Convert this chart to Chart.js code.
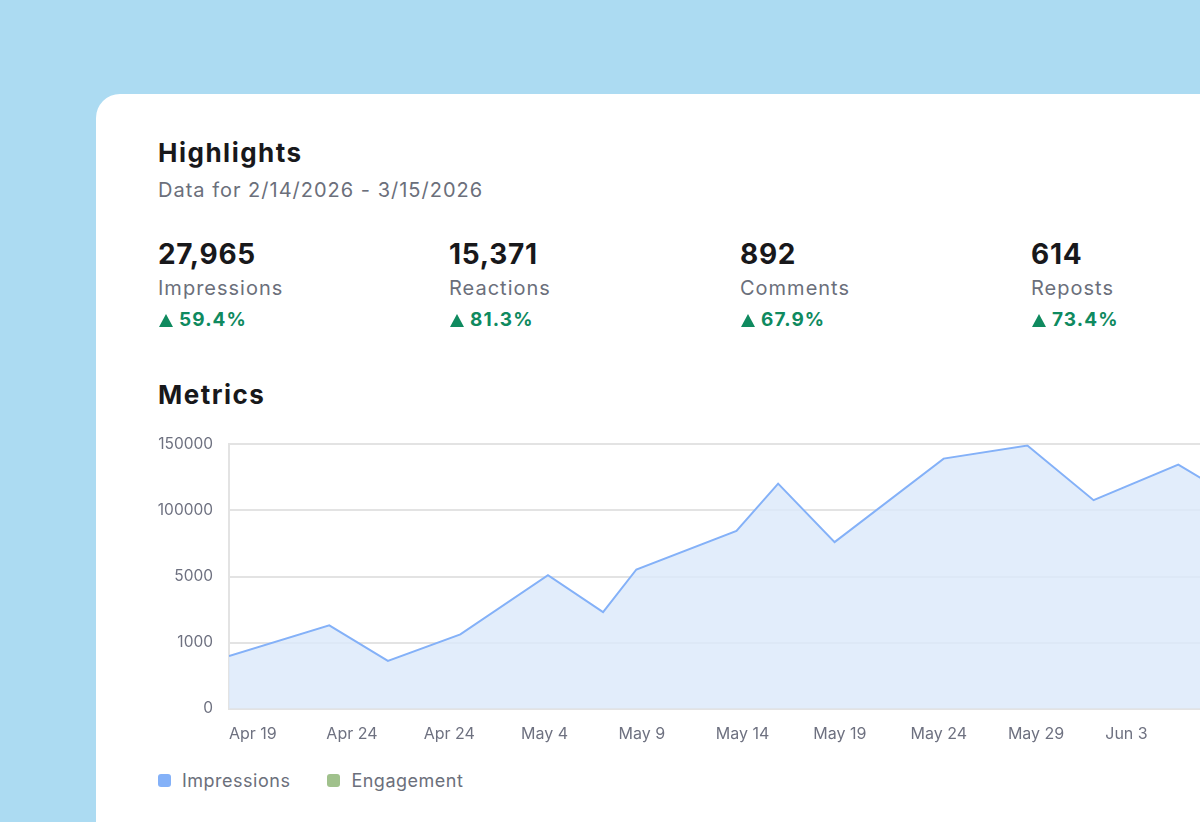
<!DOCTYPE html>
<html>
<head>
<meta charset="utf-8">
<title>Highlights</title>
<script src="https://cdn.jsdelivr.net/npm/chart.js@4.4.1/dist/chart.umd.min.js"></script>
<style>
  html, body {
    margin: 0;
    padding: 0;
    width: 1200px;
    height: 822px;
    overflow: hidden;
    background: #acdbf2;
    font-family: Inter, "Noto Sans", sans-serif;
  }
  .card {
    position: absolute;
    left: 96px;
    top: 94px;
    width: 1300px;
    height: 900px;
    background: #ffffff;
    border-radius: 24px;
  }
  .abs { position: absolute; white-space: nowrap; line-height: 1.2; }
  .title { font-size: 26px; font-weight: 700; color: #18181b; letter-spacing: 1.5px; }
  .subtitle { font-size: 20px; color: #6b6f7b; letter-spacing: 1px; }
  .stat-value { font-size: 28px; font-weight: 700; color: #18181b; letter-spacing: 0.7px; }
  .stat-label { font-size: 20px; color: #6b6f7b; letter-spacing: 1px; }
  .stat-change { font-size: 19px; font-weight: 700; color: #0f8a5f; letter-spacing: 1.1px; }
  .tri {
    display: inline-block;
    width: 0;
    height: 0;
    border-left: 7px solid transparent;
    border-right: 7px solid transparent;
    border-bottom: 13px solid #0f8a5f;
    margin-right: 6px;
    vertical-align: -1px;
  }
  #chartWrap {
    position: absolute;
    left: 148px;
    top: 419px;
    width: 1152px;
    height: 341px;
  }
  #legend {
    position: absolute;
    left: 158px;
    top: 770px;
    display: flex;
    gap: 37px;
    font-size: 18px;
    letter-spacing: 0.5px;
    color: #6b6f7b;
  }
  .legend-item { display: flex; align-items: center; }
  .legend-box { width: 13px; height: 13px; border-radius: 3px; margin-right: 11px; }
</style>
</head>
<body>
<div class="card"></div>

<div class="abs title" style="left:158px; top:137px;">Highlights</div>
<div class="abs subtitle" style="left:158px; top:178px;">Data for 2/14/2026 - 3/15/2026</div>
<div id="stats"></div>
<div class="abs title" style="left:158px; top:379px;">Metrics</div>

<div id="chartWrap"><canvas id="metricsChart"></canvas></div>
<div id="legend"></div>

<script>
  // Highlight figures
  const statNames = ['Impressions', 'Reactions', 'Comments', 'Reposts'];
  const statValues = ['27,965', '15,371', '892', '614'];
  const statChanges = ['59.4%', '81.3%', '67.9%', '73.4%'];

  // Chart data (x = days from Apr 19)
  const xTickLabels = ['Apr 19', 'Apr 24', 'Apr 24', 'May 4', 'May 9', 'May 14', 'May 19', 'May 24', 'May 29', 'Jun 3'];
  const yTickLabels = ['0', '1000', '5000', '100000', '150000'];
  const dayOffsets = [0, 5.15, 8.16, 11.88, 16.38, 19.21, 20.92, 26.06, 28.2, 31.1, 36.7, 41.0, 44.4, 48.75, 52];
  const impressions = [29900, 47300, 27200, 42200, 75800, 54800, 79000, 100900, 127700, 94500, 141900, 149300, 118300, 138500, 117000];
  const engagement = [];

  const colors = {
    impressions: '#84b1f8',
    impressionsFill: 'rgba(219, 232, 250, 0.8)',
    engagement: '#a0c18c',
    grid: '#e3e3e3',
    tick: '#6e7180'
  };

  // Build the highlight columns
  const statsEl = document.getElementById('stats');
  statNames.forEach((name, i) => {
    const left = 158 + i * 291;
    statsEl.innerHTML += `
      <div class="abs stat-value" style="left:${left}px; top:238px;">${statValues[i]}</div>
      <div class="abs stat-label" style="left:${left}px; top:276px;">${name}</div>
      <div class="abs stat-change" style="left:${left + 1}px; top:309px;"><span class="tri"></span>${statChanges[i]}</div>
    `;
  });

  const stepY = 150000 / (yTickLabels.length - 1);

  const chart = new Chart(document.getElementById('metricsChart'), {
    type: 'line',
    data: {
      datasets: [
        {
          label: 'Impressions',
          data: dayOffsets.map((d, i) => ({ x: d, y: impressions[i] })),
          borderColor: colors.impressions,
          backgroundColor: colors.impressionsFill,
          borderWidth: 2,
          fill: 'origin',
          tension: 0,
          pointRadius: 0
        },
        {
          label: 'Engagement',
          data: engagement,
          borderColor: colors.engagement,
          backgroundColor: colors.engagement,
          pointRadius: 0
        }
      ]
    },
    options: {
      responsive: true,
      maintainAspectRatio: false,
      animation: false,
      layout: { padding: 0 },
      plugins: {
        legend: { display: false },
        tooltip: { enabled: false }
      },
      scales: {
        x: {
          type: 'linear',
          min: 0,
          max: 55,
          afterBuildTicks: scale => {
            scale.ticks = xTickLabels.map((_, i) => ({ value: i * 5 }));
          },
          grid: { display: false, drawTicks: false },
          border: { display: true, color: colors.grid, width: 2 },
          ticks: {
            align: 'start',
            padding: 16,
            maxRotation: 0,
            autoSkip: false,
            color: colors.tick,
            font: { family: 'Inter', size: 16 },
            callback: value => xTickLabels[Math.round(value / 5)]
          }
        },
        y: {
          min: 0,
          max: 150000,
          afterBuildTicks: scale => {
            scale.ticks = yTickLabels.map((_, i) => ({ value: i * stepY }));
          },
          afterFit: scale => { scale.width = 81; },
          grid: { color: colors.grid, lineWidth: 2, drawTicks: false },
          border: { display: true, color: colors.grid, width: 2 },
          ticks: {
            padding: 16,
            color: colors.tick,
            font: { family: 'Inter', size: 15.5 },
            callback: value => yTickLabels[Math.round(value / stepY)]
          }
        }
      }
    }
  });

  // HTML legend from the chart datasets
  const legendEl = document.getElementById('legend');
  chart.data.datasets.forEach(ds => {
    legendEl.innerHTML += `
      <div class="legend-item">
        <span class="legend-box" style="background:${ds.borderColor}"></span>${ds.label}
      </div>
    `;
  });
</script>
</body>
</html>
